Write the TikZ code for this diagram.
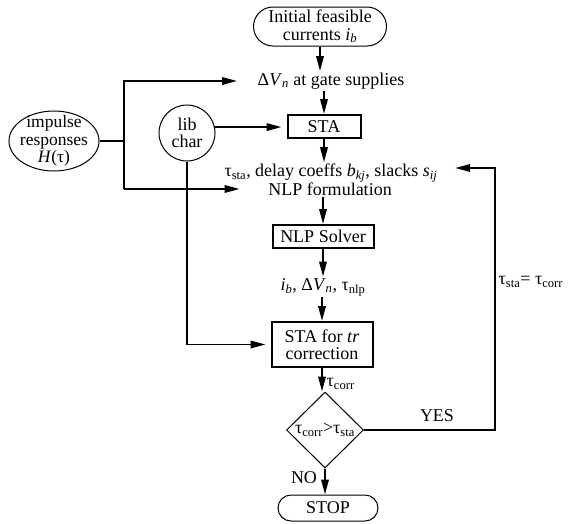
\documentclass[tikz,border=0pt]{standalone}
\usepackage{fontspec}
\setmainfont{Liberation Serif}
\usetikzlibrary{arrows.meta,shapes.geometric,calc}
\newcommand{\lsub}[1]{\textsubscript{#1}}
\begin{document}
\begin{tikzpicture}[x=1pt,y=-1pt,
  every node/.style={font=\fontsize{18}{17.5}\selectfont, inner sep=1.5pt},
  ln/.style={line width=1.8pt},
  arr/.style={line width=1.8pt, -{Triangle[length=15pt,width=7.5pt]}},
  thickbox/.style={draw, line width=2pt, rectangle, inner sep=0pt},
  thinshape/.style={draw, line width=1pt},
  term/.style={draw, line width=1pt, rectangle, inner sep=0pt, align=center},
]
\useasboundingbox (0,0) rectangle (571,523);

% nodes
\node[term, rounded corners=19.5pt, minimum width=133pt, minimum height=39pt] (init) at (320,26.5) {Initial feasible\\currents \textit{i}\lsub{\textit{b}}};
\node (dv) at (331,81) {Δ\textit{V}\lsub{\textit{n}} at gate supplies};
\node[thickbox, minimum width=73pt, minimum height=23pt] (sta) at (324,126.5) {STA};
\node[thinshape, circle, minimum size=56pt, inner sep=0pt, align=center] (lib) at (187,133) {lib\\char};
\node[thinshape, ellipse, minimum width=90pt, minimum height=60pt, inner xsep=-5.5pt, inner ysep=-6pt, align=center, font=\fontsize{17.5}{17.5}\selectfont] (imp) at (54,141) {impulse\\responses\\\textit{H}(τ)};
\node (tsta) at (331,173) {τ\lsub{sta}, delay coeffs \textit{b}\lsub{\textit{kj}}, slacks \textit{s}\lsub{\textit{ij}}};
\node (nlpf) at (330,189) {NLP formulation};
\node[thickbox, minimum width=101pt, minimum height=23pt] (nlps) at (323,236.5) {NLP Solver};
\node (ib) at (323,287) {\textit{i}\lsub{\textit{b}}, Δ\textit{V}\lsub{\textit{n}}, τ\lsub{nlp}};
\node[thickbox, minimum width=101pt, minimum height=45pt, align=center] (statr) at (322,344.5) {STA for \textit{tr}\\correction};
\node[draw, line width=1pt, diamond, minimum width=77pt, minimum height=76pt, inner sep=0pt] (dia) at (325,430) {};
\node[inner sep=0pt] (diat) at (325,430) {τ\lsub{corr}>τ\lsub{sta}};
\node[anchor=west] (tc) at (325,384) {τ\lsub{corr}};
\node[term, rounded corners=13pt, minimum width=100pt, minimum height=26pt] (stop) at (328,508) {STOP};
\node (yes) at (437,416) {YES};
\node (no) at (304,478) {NO};
\node[anchor=west] (eq) at (497,282) {τ\lsub{sta}= τ\lsub{corr}};
\coordinate (jt) at (124,81);
\coordinate (jb) at (124,189);
\coordinate (fb) at (495,168);

% main flow
\draw[arr] (init.south) -- (init.south |- dv.north);
\draw[arr] (sta.north |- dv.south) -- (sta.north);
\draw[arr] (sta.south) -- (sta.south |- tsta.north);
\draw[arr] (nlps.north |- nlpf.south) -- (nlps.north);
\draw[arr] (nlps.south) -- (nlps.south |- ib.north);
\draw[arr] (statr.north |- ib.south) -- (statr.north);
\draw[arr] (statr.south) -- (statr.south |- dia.north);
\draw[arr] (dia.south) -- (dia.south |- stop.north);

% side inputs
\draw[arr, shorten >=5pt] (lib.12) -- (lib.12 -| sta.west);
\draw[arr, shorten >=5pt] (lib.south) |- (statr.west);
\draw[ln] (imp.east) -- (imp.east -| jt);
\draw[arr, shorten >=19pt] (jb) -- (jt) -- (dv.west);
\draw[arr, shorten >=27pt] (jb) -- (nlpf.west);

% feedback
\draw[arr, shorten >=16pt] (dia.east) -| (fb) -- (fb -| tsta.east);
\end{tikzpicture}
\end{document}
